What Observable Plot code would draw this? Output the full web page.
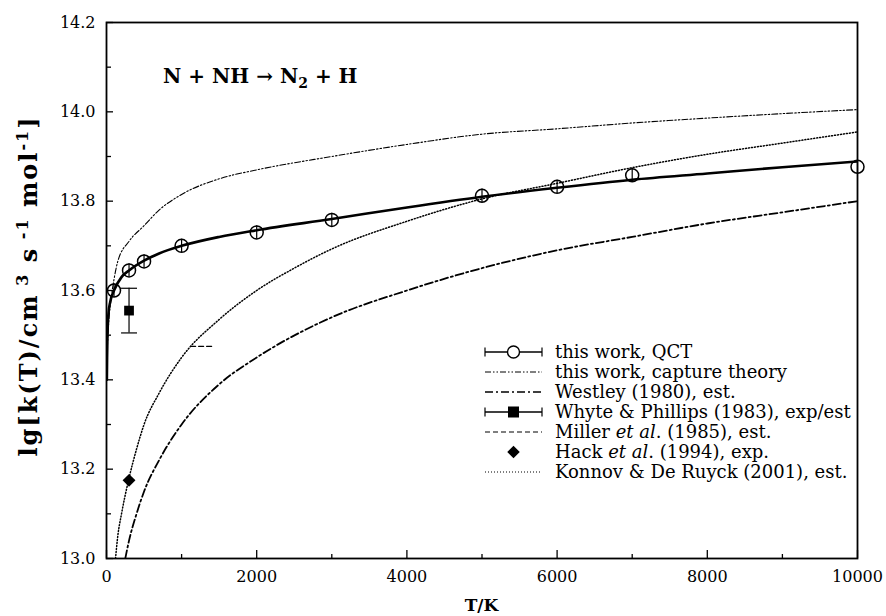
<!DOCTYPE html>
<html><head><meta charset="utf-8">
<script src="https://cdn.jsdelivr.net/npm/d3@7"></script>
<script src="https://cdn.jsdelivr.net/npm/@observablehq/plot@0.6"></script>
<style>
body{margin:0;background:#fff}
svg{font-family:"DejaVu Serif",serif}
</style>
</head><body><div id="chart"></div>
<script>
// ---- data ----
const qctT   = [100, 300, 500, 1000, 2000, 3000, 5000, 6000, 7000, 10000];
const qctK   = [13.600, 13.645, 13.665, 13.700, 13.730, 13.758, 13.812, 13.832, 13.858, 13.877];
const qctErr = [0.015, 0.015, 0.015, 0.015, 0.015, 0.015, 0.015, 0.015, 0.015, 0.015];

const fitT = [5, 8, 13, 27, 50, 100, 200, 300, 500, 700, 1000, 1500, 2000, 3000, 4000, 5000, 6000, 7000, 8000, 9000, 10000];
const fitK = [13.40, 13.45, 13.50, 13.55, 13.575, 13.600, 13.630, 13.645, 13.667, 13.683, 13.700, 13.720, 13.735, 13.760, 13.786, 13.810, 13.830, 13.848, 13.862, 13.876, 13.889];

const capT = [10, 30, 60, 100, 150, 300, 500, 700, 1000, 1500, 2000, 3000, 4000, 5000, 6000, 7000, 8000, 9000, 10000];
const capK = [13.47, 13.53, 13.58, 13.625, 13.665, 13.710, 13.745, 13.780, 13.815, 13.850, 13.870, 13.900, 13.927, 13.950, 13.962, 13.975, 13.986, 13.996, 14.005];

const westT = [250, 300, 400, 500, 700, 1000, 1500, 2000, 3000, 4000, 5000, 6000, 7000, 8000, 9000, 10000];
const westK = [13.00, 13.04, 13.10, 13.15, 13.22, 13.30, 13.39, 13.45, 13.54, 13.60, 13.65, 13.69, 13.72, 13.75, 13.775, 13.80];

const konT = [120, 150, 200, 300, 400, 500, 700, 1000, 1500, 2000, 2500, 3000, 4000, 5000, 6000, 7000, 8000, 9000, 10000];
const konK = [13.00, 13.05, 13.10, 13.18, 13.245, 13.30, 13.37, 13.45, 13.535, 13.60, 13.65, 13.693, 13.755, 13.805, 13.84, 13.875, 13.905, 13.93, 13.955];

const millerT = [1120, 1400];
const millerK = [13.475, 13.475];

const whyteT = [300], whyteK = [13.555], whyteLo = [13.505], whyteHi = [13.605];
const hackT = [300], hackK = [13.175];

const xTicks = [0, 2000, 4000, 6000, 8000, 10000];
const xMinor = [1000, 3000, 5000, 7000, 9000];
const yTicks = [13.0, 13.2, 13.4, 13.6, 13.8, 14.0, 14.2];
const yMinor = [13.1, 13.3, 13.5, 13.7, 13.9, 14.1];

const legendLabels = [
  [["this work, QCT", false]],
  [["this work, capture theory", false]],
  [["Westley (1980), est.", false]],
  [["Whyte & Phillips (1983), exp/est", false]],
  [["Miller ", false], ["et al", true], [". (1985), est.", false]],
  [["Hack ", false], ["et al", true], [". (1994), exp.", false]],
  [["Konnov & De Ruyck (2001), est.", false]]
];
const legendKinds = ["qct", "cap", "west", "whyte", "miller", "hack", "kon"];

// ---- styles ----
const DASH = {cap: "6,2,1.5,2,1.5,2", west: "8,3,2,3", miller: "5,3", kon: "1,2"};
const rows = (T, K) => T.map((t, i) => ({T: t, k: K[i]}));
const hbar = {draw(ctx, size) { const w = Math.sqrt(size); ctx.moveTo(-w, 0); ctx.lineTo(w, 0); }};

const qct = qctT.map((t, i) => ({T: t, k: qctK[i], lo: qctK[i] - qctErr[i], hi: qctK[i] + qctErr[i]}));
const whyte = whyteT.map((t, i) => ({T: t, k: whyteK[i], lo: whyteLo[i], hi: whyteHi[i]}));

const plot = Plot.plot({
  width: 886, height: 616,
  marginLeft: 106, marginRight: 29, marginTop: 22, marginBottom: 58,
  x: {domain: [0, 10000]},
  y: {domain: [13, 14.2]},
  style: {fontFamily: "DejaVu Serif, serif", fontSize: "16px", color: "#000", background: "#fff", overflow: "visible"},
  marks: [
    Plot.line(rows(capT, capK), {x: "T", y: "k", stroke: "#000", strokeWidth: 1.1, strokeDasharray: DASH.cap, curve: "monotone-x", clip: true}),
    Plot.line(rows(westT, westK), {x: "T", y: "k", stroke: "#000", strokeWidth: 1.8, strokeDasharray: DASH.west, curve: "monotone-x", clip: true}),
    Plot.line(rows(konT, konK), {x: "T", y: "k", stroke: "#000", strokeWidth: 1.5, strokeDasharray: DASH.kon, curve: "monotone-x", clip: true}),
    Plot.line(rows(millerT, millerK), {x: "T", y: "k", stroke: "#000", strokeWidth: 1.3, strokeDasharray: DASH.miller}),
    Plot.line(rows(fitT, fitK), {x: "T", y: "k", stroke: "#000", strokeWidth: 2.6, curve: "monotone-x", clip: true}),
    Plot.ruleX(qct, {x: "T", y1: "lo", y2: "hi", stroke: "#000", strokeWidth: 1.2}),
    Plot.dot(qct, {x: "T", y: "k", r: 6.5, stroke: "#000", strokeWidth: 1.5, fill: "none"}),
    Plot.ruleX(whyte, {x: "T", y1: "lo", y2: "hi", stroke: "#000", strokeWidth: 1.2}),
    Plot.dot(whyte, {x: "T", y: "lo", symbol: hbar, r: 4.5, stroke: "#000", strokeWidth: 1.2}),
    Plot.dot(whyte, {x: "T", y: "hi", symbol: hbar, r: 4.5, stroke: "#000", strokeWidth: 1.2}),
    Plot.dot(whyte, {x: "T", y: "k", symbol: "square", r: 5.5, fill: "#000"}),
    Plot.dot(rows(hackT, hackK), {x: "T", y: "k", symbol: "diamond2", r: 5.8, fill: "#000", stroke: "none"}),
    Plot.frame({stroke: "#000", strokeWidth: 1.8}),
    Plot.axisX({ticks: xTicks, tickSize: -8, tickPadding: 20, tickFormat: d => String(d), label: null, strokeWidth: 1.3}),
    Plot.axisX({ticks: xMinor, tickSize: -4, tickFormat: () => "", label: null, strokeWidth: 1.3}),
    Plot.axisY({ticks: yTicks, tickSize: -7, tickPadding: 18, tickFormat: d3.format(".1f"), label: null, strokeWidth: 1.3}),
    Plot.axisY({ticks: yMinor, tickSize: -5, tickFormat: () => "", label: null, strokeWidth: 1.3})
  ]
});
document.getElementById("chart").appendChild(plot);

// ---- annotations drawn from the plot's own scales ----
const svg = d3.select(plot);
const xs = plot.scale("x"), ys = plot.scale("y");

// title
const title = svg.append("text")
  .attr("x", xs.apply(760)).attr("y", ys.apply(14.08)).attr("dy", "0.35em")
  .attr("text-anchor", "start")
  .attr("font-weight", "bold").attr("font-size", 20).attr("fill", "#000");
title.append("tspan").text("N + NH → N");
title.append("tspan").attr("font-size", 14).attr("dy", 5).text("2");
title.append("tspan").attr("dy", -5).text(" + H");

// axis titles
svg.append("text")
  .attr("x", (xs.range[0] + xs.range[1]) / 2).attr("y", 611)
  .attr("text-anchor", "middle").attr("font-weight", "bold").attr("font-size", 17).attr("fill", "#000")
  .text("T/K");

const yl = svg.append("text")
  .attr("transform", `translate(37,${(ys.range[0] + ys.range[1]) / 2 - 4}) rotate(-90)`)
  .attr("text-anchor", "middle").attr("font-weight", "bold").attr("font-size", 24)
  .attr("letter-spacing", 2).attr("fill", "#000");
yl.append("tspan").text("lg[k(T)/cm");
yl.append("tspan").attr("font-size", 16).attr("dy", -9).text(" 3");
yl.append("tspan").attr("dy", 9).text(" s");
yl.append("tspan").attr("font-size", 16).attr("dy", -9).text(" -1");
yl.append("tspan").attr("dy", 9).text(" mol");
yl.append("tspan").attr("font-size", 16).attr("dy", -9).text("-1");
yl.append("tspan").attr("dy", 9).text("]");

// legend
const lg = svg.append("g").attr("stroke", "#000").attr("fill", "none");
const lx0 = 485, lx1 = 542, lxm = (lx0 + lx1) / 2, ly0 = 352, ldy = 20;
legendKinds.forEach((kind, i) => {
  const y = ly0 + i * ldy;
  const line = (w, dash) => lg.append("line").attr("x1", lx0).attr("x2", lx1).attr("y1", y).attr("y2", y)
    .attr("stroke-width", w).attr("stroke-dasharray", dash || null);
  const caps = () => [lx0, lx1].forEach(x => lg.append("line").attr("x1", x).attr("x2", x).attr("y1", y - 4.5).attr("y2", y + 4.5).attr("stroke-width", 1.2));
  if (kind === "qct") { line(1.4); caps(); lg.append("circle").attr("cx", lxm).attr("cy", y).attr("r", 6).attr("fill", "#fff").attr("stroke-width", 1.4); }
  if (kind === "cap") line(1, DASH.cap);
  if (kind === "west") line(1.4, DASH.west);
  if (kind === "whyte") { line(1.4); caps(); lg.append("rect").attr("x", lxm - 5).attr("y", y - 5).attr("width", 10).attr("height", 10).attr("fill", "#000"); }
  if (kind === "miller") line(1.2, DASH.miller);
  if (kind === "hack") lg.append("path").attr("d", d3.symbol(d3.symbolDiamond2, 100)()).attr("transform", `translate(${lxm},${y})`).attr("fill", "#000").attr("stroke", "none");
  if (kind === "kon") line(1.2, DASH.kon);
  const t = svg.append("text").attr("x", 555).attr("y", y).attr("dy", "0.35em")
    .attr("text-anchor", "start").attr("font-size", 18).attr("fill", "#000");
  legendLabels[i].forEach(([s, it]) => t.append("tspan").attr("font-style", it ? "italic" : null).text(s));
});
</script>
</body></html>
